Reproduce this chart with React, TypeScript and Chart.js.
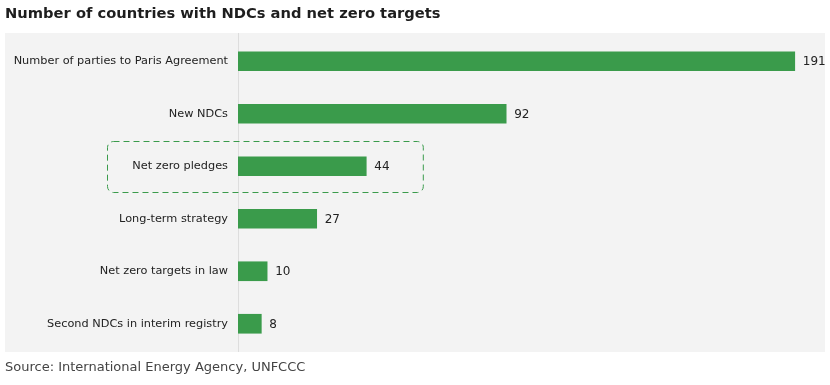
import React, { useEffect, useRef } from "react";
import { Chart, registerables } from "chart.js";
Chart.register(...registerables);

const title = "Number of countries with NDCs and net zero targets";
const source = "Source: International Energy Agency, UNFCCC";
const categories = [
  "Number of parties to Paris Agreement",
  "New NDCs",
  "Net zero pledges",
  "Long-term strategy",
  "Net zero targets in law",
  "Second NDCs in interim registry",
];
const values = [191, 92, 44, 27, 10, 8];
const highlightIndex = 2;

const FONT = "'DejaVu Sans', sans-serif";

export default function App() {
  const ref = useRef<HTMLCanvasElement>(null);
  useEffect(() => {
    document.body.style.margin = "0";
    const canvas = ref.current!;
    const deco = {
      id: "deco",
      beforeDraw(chart: any) {
        const { ctx, chartArea } = chart;
        ctx.save();
        ctx.fillStyle = "#f3f3f3";
        ctx.fillRect(5, 33, 820, 319);
        ctx.strokeStyle = "#dddddd";
        ctx.lineWidth = 1;
        ctx.beginPath();
        ctx.moveTo(Math.round(chartArea.left) + 0.5, 33);
        ctx.lineTo(Math.round(chartArea.left) + 0.5, 352);
        ctx.stroke();
        ctx.restore();
      },
      afterDraw(chart: any) {
        const { ctx } = chart;
        const meta = chart.getDatasetMeta(0);
        const xs = chart.scales.x;
        ctx.save();
        ctx.fillStyle = "#1e1e1e";
        ctx.font = `bold 14.7px ${FONT}`;
        ctx.textBaseline = "middle";
        ctx.textAlign = "left";
        ctx.fillText(title, 5, 14);
        ctx.fillStyle = "#444";
        ctx.font = `13px ${FONT}`;
        ctx.fillText(source, 5, 368);
        ctx.fillStyle = "#222";
        ctx.font = `12px ${FONT}`;
        meta.data.forEach((bar: any, i: number) => {
          ctx.fillText(String(values[i]), bar.x + 8, bar.y + 1);
        });
        // highlight box
        const hb = meta.data[highlightIndex];
        const x0 = 107.5;
        const x1 = xs.getPixelForValue(63.4) + 0.5;
        const y0 = Math.round(hb.y - 25) + 0.5;
        const y1 = Math.round(hb.y + 26) + 0.5;
        ctx.strokeStyle = "#3a9b4b";
        ctx.setLineDash([6, 4]);
        ctx.lineWidth = 1;
        ctx.beginPath();
        ctx.roundRect(x0, y0, x1 - x0, y1 - y0, 6);
        ctx.stroke();
        ctx.restore();
      },
    };
    const chart = new Chart(canvas, {
      type: "bar",
      data: {
        labels: categories,
        datasets: [
          {
            data: values,
            backgroundColor: "#3a9b4b",
            borderWidth: 0,
            barThickness: 19,
          },
        ],
      },
      options: {
        indexAxis: "y",
        animation: false,
        responsive: false,
        layout: { padding: { top: 35, bottom: 35, left: 0, right: 9 } },
        plugins: { legend: { display: false }, tooltip: { enabled: false } },
        scales: {
          x: {
            min: 0,
            max: 200,
            display: false,
          },
          y: {
            grid: { display: false },
            border: { display: false },
            afterFit(scale: any) {
              scale.width = 238;
            },
            ticks: {
              color: "#222",
              padding: 2,
              font: { family: FONT, size: 11.3 },
            },
          },
        },
      },
      plugins: [deco],
    });
    return () => chart.destroy();
  }, []);
  return <canvas ref={ref} width={830} height={385} style={{ display: "block" }} />;
}
